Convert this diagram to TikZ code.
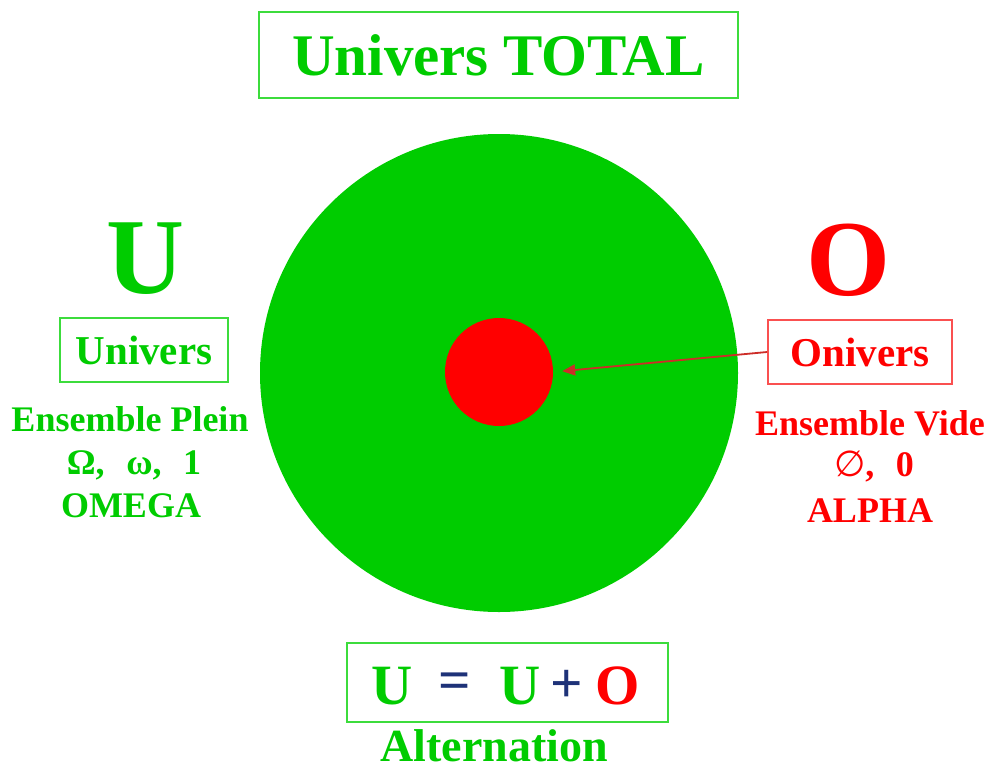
\documentclass[tikz,border=0pt]{standalone}
\usepackage{fontspec}
\setmainfont{Liberation Serif}
\newfontfamily\dejasans{DejaVu Sans}
\usetikzlibrary{arrows.meta}
\definecolor{ugreen}{RGB}{0,204,0}
\definecolor{boxgreen}{RGB}{60,220,60}
\definecolor{ored}{RGB}{255,0,0}
\definecolor{boxred}{RGB}{250,80,80}
\definecolor{arrowred}{RGB}{205,45,40}
\definecolor{opblue}{RGB}{30,50,120}
\newcommand{\fs}[1]{\fontsize{#1}{#1}\selectfont\bfseries}
\begin{document}
\begin{tikzpicture}[x=1pt,y=-1pt,
  txt/.style={inner sep=0pt, anchor=center},
  gbox/.style={draw=boxgreen, line width=1.8pt, inner sep=0pt, text=ugreen},
  rbox/.style={draw=boxred, line width=1.8pt, inner sep=0pt, text=ored}]
\useasboundingbox[fill=white] (0,0) rectangle (994,774);
% circles
\fill[ugreen] (499,373) circle (239);
\node[circle, fill=ored, minimum size=108pt, inner sep=0pt] (inner) at (499,372) {};
% title
\node[gbox, minimum width=479pt, minimum height=86pt, font=\fs{59}] (title) at (498.5,55) {Univers TOTAL};
% left side
\node[txt, text=ugreen, font=\fs{108}] (bigU) at (145,259) {U};
\node[gbox, minimum width=168pt, minimum height=64pt, font=\fs{41}] (ubox) at (144,350) {Univers};
\node[txt, text=ugreen, font=\fs{36}] (plein) at (130,419) {Ensemble Plein};
\node[txt, text=ugreen, font=\fs{36}] (omsym) at (134,465) {Ω,\hspace{0.6em}ω,\hspace{0.6em}1};
\node[txt, text=ugreen, font=\fs{36}] (omega) at (131,506) {OMEGA};
% right side
\node[txt, text=ored, font=\fs{108}] (bigO) at (848,260) {O};
\node[rbox, minimum width=184pt, minimum height=64pt, font=\fs{41}] (obox) at (860,352) {Onivers};
\node[txt, text=ored, font=\fs{36}] (vide) at (870,423) {Ensemble Vide};
\node[txt, text=ored, font=\fs{36}] (vsym) at (874,467) {{\dejasans\mdseries\itshape ∅},\hspace{0.6em}0};
\node[txt, text=ored, font=\fs{36}] (alpha) at (870,511) {ALPHA};
% arrow
\draw[arrowred, line width=1.8pt, -{Triangle[length=13pt,width=11pt]}, shorten >=9pt]
  (obox.west) -- (inner.east);
% bottom
\node[gbox, minimum width=321pt, minimum height=79pt] (eqbox) at (507.5,682.5) {};
\node[txt, text=ugreen, font=\fs{57}] (eU1) at (392,686) {U};
\node[txt, text=opblue, font=\fs{57}] (eEq) at (455,686) {=};
\node[txt, text=ugreen, font=\fs{57}] (eU2) at (520,686) {U};
\node[txt, text=opblue, font=\fs{57}] (ePlus) at (567,686) {+};
\node[txt, text=ored, font=\fs{57}] (eO) at (618,686) {O};
\node[txt, text=ugreen, font=\fs{46}] (alt) at (494,746) {Alternation};
\end{tikzpicture}
\end{document}
